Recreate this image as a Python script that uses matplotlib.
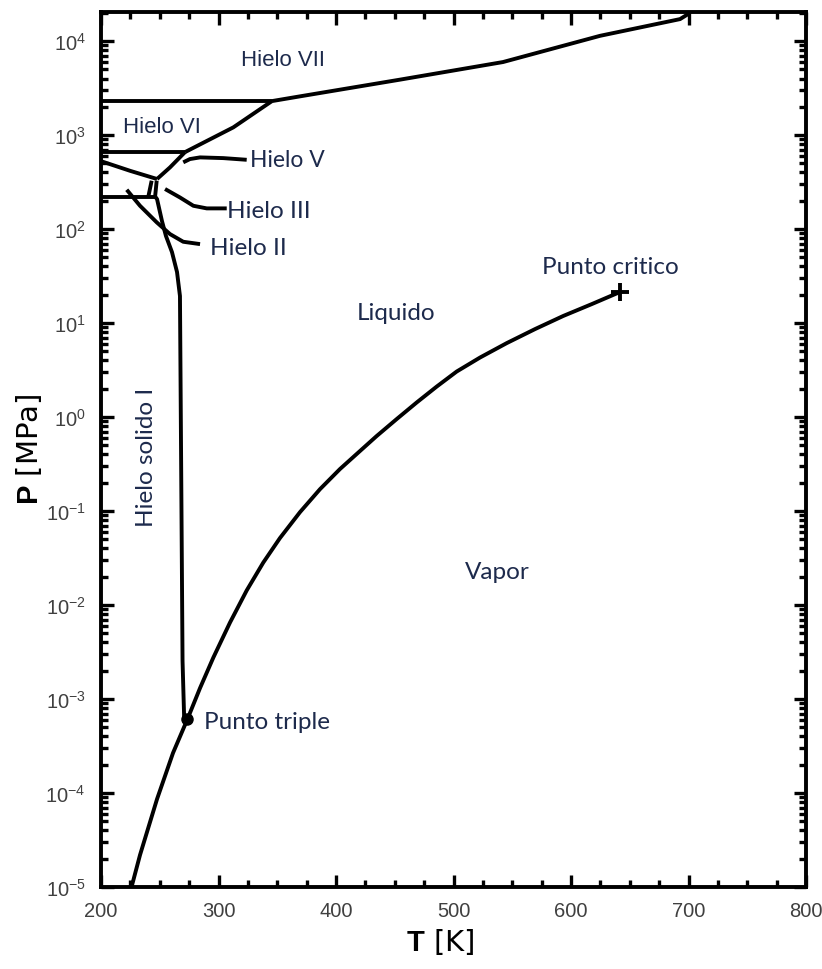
import matplotlib
matplotlib.use("Agg")
import matplotlib.pyplot as plt
from matplotlib.ticker import LogLocator, FixedLocator, MultipleLocator, NullFormatter

plt.rcParams["mathtext.fontset"] = "custom"
plt.rcParams["mathtext.rm"] = "Liberation Sans"
plt.rcParams["mathtext.bf"] = "Liberation Sans:bold"
plt.rcParams["mathtext.default"] = "regular"

# ---- phase boundaries of water (T in K, P in MPa) ----
vap_T = [226.0, 233.2, 247.7, 261.3, 273.6, 284.3, 295.6, 309.8, 324.0, 338.1, 352.3, 369.4, 386.4,
         403.4, 420.4, 434.6, 451.7, 468.7, 485.7, 502.7, 522.6, 545.3, 569.4, 593.4, 617.6, 641.7]
vap_P = [1.0e-5, 2.19e-5, 8.63e-5, 2.67e-4, 6.12e-4, 1.31e-3, 2.76e-3, 6.52e-3, 1.43e-2, 2.83e-2,
         5.16e-2, 9.75e-2, 0.171, 0.280, 0.435, 0.628, 0.953, 1.43, 2.11, 3.05, 4.30, 6.12, 8.63,
         11.9, 15.9, 21.4]

ih_T = [270.8, 269.4, 268.5, 267.2, 264.7, 260.4, 255.3, 251.9, 247.7, 246.4]
ih_P = [6.1e-4, 2.54e-3, 9.75e-2, 19.4, 34.9, 56.9, 84.3, 121.6, 208.4, 219.0]

vii_T = [345.5, 369.4, 454.5, 542.1, 624.7, 692.8, 701.0]
vii_P = [2300, 2584, 3890, 5985, 11380, 17140, 19860]

vi_T = [271.5, 312.6, 345.5]
vi_P = [659, 1208, 2300]

v_T = [271.5, 258.7, 247.7]
v_P = [659, 453, 341]

iiv_T = [200.0, 224.7, 247.7]
iiv_P = [528, 417, 341]

box_left_T = [243.1, 240.2]
box_left_P = [327, 219]
box_right_T = [247.4, 246.0]
box_right_P = [327, 219]

# isobars drawn from the left edge
iso_P = [219, 659, 2300]
iso_Tend = [247.0, 271.5, 345.5]

# leader curves towards the ice labels
ii_T = [221.9, 233.2, 247.4, 258.7, 270.0, 284.3]
ii_P = [262, 177, 118, 88.5, 73.3, 69.2]
iii_T = [254.5, 267.2, 278.6, 290.0, 307.0]
iii_P = [267, 217, 177, 166, 166]
vlead_T = [270.0, 275.7, 284.3, 304.1, 324.0]
vlead_P = [513, 556, 579, 569, 546]

triple_T, triple_P = 273.5, 6.1e-4
crit_T, crit_P = 642.0, 21.5

x_ticks = [200, 300, 400, 500, 600, 700, 800]
y_ticks = [1e-5, 1e-4, 1e-3, 1e-2, 1e-1, 1e0, 1e1, 1e2, 1e3, 1e4]
y_labels = ["$10^{-5}$", "$10^{-4}$", "$10^{-3}$", "$10^{-2}$", "$10^{-1}$",
            "$10^{0}$", "$10^{1}$", "$10^{2}$", "$10^{3}$", "$10^{4}$"]

fig = plt.figure(figsize=(8.22, 9.70), dpi=100)
ax = fig.add_axes([101 / 822, 1 - 888 / 970, 705 / 822, 875 / 970])
ax.set_yscale("log")
ax.set_xlim(200, 800)
ax.set_ylim(1e-5, 2.04e4)

lw = 2.8
kw = dict(color="black", lw=lw, solid_capstyle="butt", solid_joinstyle="round")
ax.plot(vap_T, vap_P, **kw)
ax.plot(ih_T, ih_P, **kw)
ax.plot(vii_T, vii_P, **kw)
ax.plot(vi_T, vi_P, **kw)
ax.plot(v_T, v_P, **kw)
ax.plot(iiv_T, iiv_P, **kw)
ax.plot(box_left_T, box_left_P, **kw)
ax.plot(box_right_T, box_right_P, **kw)
for p, te in zip(iso_P, iso_Tend):
    ax.plot([200, te], [p, p], **kw)
ax.plot(ii_T, ii_P, **kw)
ax.plot(iii_T, iii_P, **kw)
ax.plot(vlead_T, vlead_P, **kw)

ax.plot([triple_T], [triple_P], marker="o", ms=8, color="black", zorder=5)
ax.plot([crit_T], [crit_P], marker="+", ms=13, mew=2.8, color="black", zorder=5)

# ---- labels ----
tc = "#1d2a4c"
cal = ["Lato", "DejaVu Sans"]
ari = ["Liberation Sans", "DejaVu Sans"]
fs = 17.5
ax.text(354.9, 6440, "Hielo VII", family=ari, fontsize=16, color=tc, ha="center", va="center")
ax.text(251.9, 1247, "Hielo VI", family=ari, fontsize=16, color=tc, ha="center", va="center")
ax.text(326.5, 556, "Hielo V", family=cal, fontsize=16.5, color=tc, ha="left", va="center")
ax.text(307.5, 159, "Hielo III", family=cal, fontsize=fs, color=tc, ha="left", va="center")
ax.text(292.5, 64.4, "Hielo II", family=cal, fontsize=fs, color=tc, ha="left", va="center")
ax.text(451, 13.1, "Liquido", family=cal, fontsize=fs, color=tc, ha="center", va="center")
ax.text(633.6, 39.5, "Punto critico", family=cal, fontsize=fs, color=tc, ha="center", va="center")
ax.text(537, 0.023, "Vapor", family=cal, fontsize=fs, color=tc, ha="center", va="center")
ax.text(287.5, 5.83e-4, "Punto triple", family=cal, fontsize=fs, color=tc, ha="left", va="center")
ax.text(238.9, 0.385, "Hielo solido I", family=cal, fontsize=fs, color=tc,
        ha="center", va="center", rotation=90)

# ---- axes styling ----
for s in ax.spines.values():
    s.set_linewidth(2.8)

ax.xaxis.set_major_locator(FixedLocator(x_ticks))
ax.xaxis.set_minor_locator(MultipleLocator(25))
ax.set_xticklabels([str(t) for t in x_ticks])
ax.yaxis.set_major_locator(FixedLocator(y_ticks))
ax.set_yticklabels(y_labels)
ax.yaxis.set_minor_locator(LogLocator(base=10, subs=range(2, 10), numticks=30))
ax.yaxis.set_minor_formatter(NullFormatter())

ax.tick_params(which="both", direction="in", top=True, right=True, width=2.4, colors="black",
               labelcolor="#404040", labelsize=14.5)
ax.tick_params(which="major", length=9)
ax.tick_params(which="minor", length=5)
ax.tick_params(axis="x", which="major", pad=10)
ax.tick_params(axis="y", which="major", pad=11)
for lab in ax.get_xticklabels() + ax.get_yticklabels():
    lab.set_family(ari)

ax.set_xlabel(r"$\mathbf{T}$ [K]", fontsize=21, color="black")
ax.xaxis.set_label_coords((440 - 101) / 705, -(927 - 888) / 875)
ax.set_ylabel(r"$\mathbf{P}$ [MPa]", fontsize=21, color="black")
ax.yaxis.set_label_coords((44 - 101) / 705, (888 - 449) / 875)

fig.savefig("out.png", dpi=100)
